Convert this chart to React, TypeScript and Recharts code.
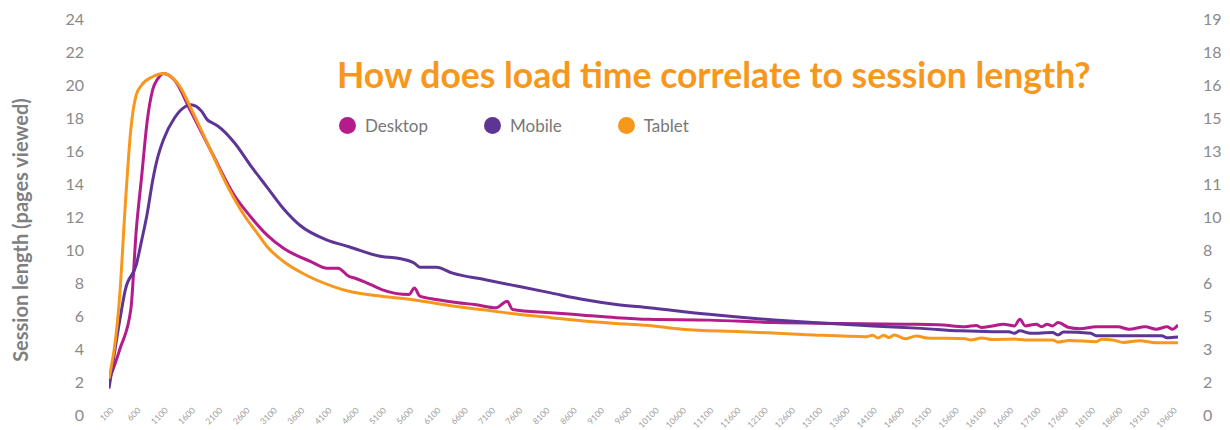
import React from 'react';
import { LineChart, Line, XAxis, YAxis } from 'recharts';

// load time (ms) / session length (pages viewed)
const desktopLoad = [
  100, 300, 500, 600, 700, 800, 900, 1000, 1100, 1300, 1600, 2000, 2400, 2700, 3000, 3300,
  3800, 4100, 4300, 4500, 4600, 4900, 5100, 5600, 5700, 5800, 6100, 6500, 6800, 7200, 7400,
  7500, 8200, 8800, 9400, 10000, 11100, 12300, 13500, 14700, 15300, 15800, 16000, 16100,
  16300, 16500, 16700, 16800, 16900, 17100, 17200, 17300, 17400, 17500, 17700, 17900, 18200,
  18600, 18800, 19100, 19300, 19500, 19600, 19700,
];
const desktopPages = [
  2.1, 4.0, 6.4, 11.2, 14.5, 17.8, 19.7, 20.4, 20.7, 20.3, 18.4, 15.8, 13.3, 12.0, 10.9, 10.1,
  9.3, 8.9, 8.9, 8.4, 8.3, 7.9, 7.6, 7.3, 7.7, 7.2, 7.0, 6.8, 6.7, 6.5, 6.9,
  6.4, 6.2, 6.05, 5.9, 5.8, 5.75, 5.6, 5.55, 5.5, 5.47, 5.35, 5.43, 5.3,
  5.4, 5.5, 5.4, 5.8, 5.4, 5.5, 5.35, 5.5, 5.4, 5.6, 5.3, 5.23, 5.35,
  5.35, 5.2, 5.35, 5.2, 5.35, 5.2, 5.45,
];

const mobileLoad = [
  100, 300, 400, 600, 700, 800, 900, 1000, 1100, 1300, 1500, 1600, 1800, 1900, 2000, 2100,
  2400, 2700, 3000, 3300, 3600, 4100, 4500, 5100, 5400, 5700, 5800, 6100, 6400, 7000, 7600,
  8200, 8800, 9400, 10000, 11100, 12300, 13000, 14100, 15000, 15700, 16300, 16600, 16700,
  16800, 17000, 17400, 17500, 17600, 18100, 18200, 19400, 19500, 19700,
];
const mobilePages = [
  1.6, 5.8, 7.6, 9.1, 10.6, 12.2, 14.2, 15.7, 16.7, 18.0, 18.7, 18.8, 18.4, 17.9, 17.7, 17.5,
  16.5, 15.1, 13.8, 12.5, 11.5, 10.6, 10.2, 9.6, 9.5, 9.2, 8.95, 8.95, 8.6, 8.2, 7.8,
  7.4, 7.0, 6.7, 6.5, 6.1, 5.76, 5.6, 5.4, 5.25, 5.1, 5.05, 5.05, 4.95,
  5.1, 4.95, 5.0, 4.85, 5.03, 4.95, 4.8, 4.8, 4.68, 4.73,
];

const tabletLoad = [
  100, 300, 400, 500, 600, 700, 900, 1100, 1200, 1400, 1600, 1900, 2300, 2600, 2800, 3000,
  3300, 3700, 4200, 4500, 5100, 5700, 6400, 7000, 7600, 8200, 8800, 9400, 10000, 10600,
  11700, 12900, 14000, 14100, 14200, 14300, 14400, 14500, 14700, 14900, 15100, 15800, 15900,
  16100, 16300, 16700, 16900, 17400, 17500, 17700, 18200, 18300, 18500, 18700, 19000, 19300,
  19700,
];
const tabletPages = [
  2.2, 7.4, 12.8, 17.3, 19.4, 20.0, 20.5, 20.7, 20.6, 19.9, 18.6, 16.5, 13.7, 12.0, 11.1, 10.2,
  9.3, 8.5, 7.8, 7.5, 7.2, 6.97, 6.6, 6.36, 6.1, 5.9, 5.7, 5.55, 5.42, 5.2,
  5.05, 4.87, 4.75, 4.83, 4.67, 4.83, 4.7, 4.85, 4.62, 4.79, 4.67, 4.62, 4.55,
  4.67, 4.57, 4.6, 4.55, 4.55, 4.42, 4.52, 4.44, 4.59, 4.55, 4.4, 4.5, 4.38,
  4.38,
];

const xTicks = [
  100, 600, 1100, 1600, 2100, 2600, 3100, 3600, 4100, 4600, 5100, 5600, 6100, 6600, 7100,
  7600, 8100, 8600, 9100, 9600, 10100, 10600, 11100, 11600, 12100, 12600, 13100, 13600,
  14100, 14600, 15100, 15600, 16100, 16600, 17100, 17600, 18100, 18600, 19100, 19600,
];
const leftTicks = [0, 2, 4, 6, 8, 10, 12, 14, 16, 18, 20, 22, 24];
const rightTickLabels = ['0', '2', '3', '5', '6', '8', '10', '11', '13', '15', '16', '18', '19'];

const series = [
  { name: 'Desktop', color: '#B41C8C', load: desktopLoad, pages: desktopPages },
  { name: 'Mobile', color: '#5E3595', load: mobileLoad, pages: mobilePages },
  { name: 'Tablet', color: '#F7981D', load: tabletLoad, pages: tabletPages },
];

const FONT = 'Lato, "Noto Sans", sans-serif';
const W = 1230;
const H = 430;
const PLOT_RIGHT = 1178;

function XTick(props: any) {
  const { x, y, payload } = props;
  const ax = x + 5;
  const ay = y - 6;
  return (
    <text
      x={ax}
      y={ay}
      transform={`rotate(-45, ${ax}, ${ay})`}
      textAnchor="end"
      fontSize={8.5}
      fontFamily={FONT}
      fill="#9d9d9d"
    >
      {payload.value}
    </text>
  );
}

// left tick plus the matching secondary-axis label on the right
function YTick(props: any) {
  const { x, y, payload, index } = props;
  const style = { fontSize: 16, fontFamily: FONT, fill: '#8a8a8a' };
  return (
    <g>
      <text x={x} y={y} dy="0.35em" textAnchor="end" {...style}>
        {payload.value}
      </text>
      <text x={PLOT_RIGHT + 25} y={y} dy="0.35em" textAnchor="start" {...style}>
        {rightTickLabels[index]}
      </text>
    </g>
  );
}

export default function App() {
  return (
    <div style={{ position: 'absolute', left: 0, top: 0, width: W, height: H, background: '#fff' }}>
      <LineChart width={W} height={H} margin={{ top: 19, right: W - PLOT_RIGHT, left: 0, bottom: 0 }}>
        <XAxis
          dataKey="t"
          type="number"
          domain={[100, 19700]}
          ticks={xTicks}
          interval={0}
          axisLine={false}
          tickLine={false}
          tickSize={0}
          height={15}
          tick={<XTick />}
          allowDataOverflow
        />
        <YAxis
          domain={[0, 24]}
          ticks={leftTicks}
          interval={0}
          width={109}
          axisLine={false}
          tickLine={false}
          tickSize={0}
          tickMargin={25}
          tick={<YTick />}
        />
        {series.map((s) => (
          <Line
            key={s.name}
            name={s.name}
            data={s.load.map((t, i) => ({ t, v: s.pages[i] }))}
            dataKey="v"
            type="monotone"
            stroke={s.color}
            strokeWidth={3}
            dot={false}
            activeDot={false}
            isAnimationActive={false}
          />
        ))}
      </LineChart>
      <div style={{ position: 'absolute', left: 337, top: 55, fontFamily: FONT }}>
        <div style={{ color: '#F7981D', fontSize: 35.5, fontWeight: 700, lineHeight: '40px', whiteSpace: 'nowrap' }}>
          How does load time correlate to session length?
        </div>
        <div style={{ display: 'flex', marginTop: 20, marginLeft: 2 }}>
          {series.map((s) => (
            <div key={s.name} style={{ display: 'flex', alignItems: 'center', marginRight: 56 }}>
              <span
                style={{
                  width: 17,
                  height: 17,
                  borderRadius: '50%',
                  background: s.color,
                  display: 'inline-block',
                  marginRight: 9,
                }}
              />
              <span style={{ color: '#777', fontSize: 17 }}>{s.name}</span>
            </div>
          ))}
        </div>
      </div>
      <div
        style={{
          position: 'absolute',
          left: 20,
          top: 230,
          transform: 'translate(-50%, -50%) rotate(-90deg)',
          whiteSpace: 'nowrap',
          fontFamily: FONT,
          fontSize: 20,
          fontWeight: 700,
          color: '#7f7f7f',
        }}
      >
        Session length (pages viewed)
      </div>
    </div>
  );
}
